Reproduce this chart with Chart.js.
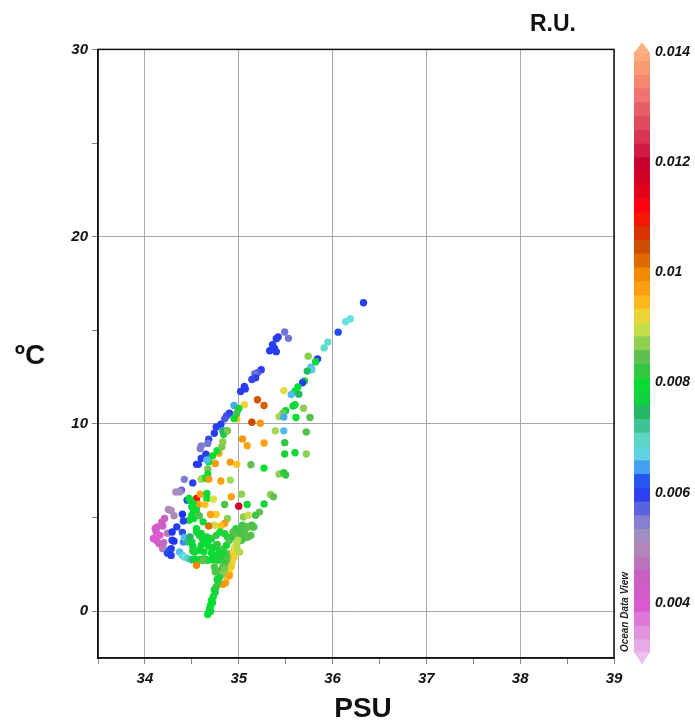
<!DOCTYPE html>
<html>
<head>
<meta charset="utf-8">
<script src="https://cdn.jsdelivr.net/npm/chart.js@4.4.0/dist/chart.umd.min.js"></script>
<style>
  html, body { margin: 0; padding: 0; background: #fff; }
  #wrap { width: 695px; height: 725px; }
</style>
</head>
<body>
<div id="wrap"><canvas id="tsChart" width="695" height="725"></canvas></div>
<script>
// each row: [salinity PSU, temperature ºC, R.U.]
const rightArm = [
  [36.33,16.47,.0060],[36.19,15.60,.0068],[36.14,15.46,.0068],[36.06,14.90,.0062],
  [35.95,14.37,.0069],[35.91,14.06,.0069],[35.84,13.47,.0060],[35.82,13.32,.0078],
  [35.74,13.62,.0087],[35.77,13.03,.0066],[35.78,12.89,.0067],[35.73,12.82,.0075],
  [35.70,12.29,.0077],[35.68,12.20,.0060],[35.63,11.98,.0079],[35.60,11.75,.0079],
  [35.64,11.59,.0075],[35.56,11.57,.0066],[35.48,11.78,.0091],[35.58,10.96,.0077],
  [35.60,11.03,.0080],[35.69,10.84,.0087],[35.50,10.71,.0078],[35.47,10.57,.0086],
  [35.43,10.39,.0088],[35.48,10.37,.0065],[35.61,10.34,.0079],[35.76,10.34,.0084],
  [35.39,9.63,.0088],[35.48,9.63,.0066],[35.72,9.57,.0084],[35.49,9.00,.0082],
  [35.60,8.46,.0080],[35.49,8.39,.0081],[35.72,8.39,.0087],[35.27,7.64,.0079],
  [35.13,7.82,.0085],[35.43,7.32,.0087],[35.48,7.39,.0082],[35.50,7.27,.0082]
];
const blueArm = [
  [35.49,14.91,.0056],[35.53,14.57,.0056],[35.42,14.64,.0060],[35.40,14.55,.0060],
  [35.36,14.23,.0060],[35.38,14.05,.0060],[35.40,13.86,.0060],[35.33,13.91,.0060],
  [35.24,12.89,.0060],[35.20,12.73,.0058],[35.17,12.68,.0056],[35.18,12.46,.0060],
  [35.14,12.37,.0059],[35.06,12.00,.0060],[35.07,11.87,.0060],[35.02,11.73,.0060],
  [34.95,10.98,.0065],[34.90,10.57,.0060],[34.87,10.43,.0059],[34.85,10.27,.0058],
  [34.81,9.98,.0060],[34.76,9.84,.0060],[34.74,9.50,.0060],[34.68,9.18,.0059],
  [34.67,8.96,.0056],[34.60,8.82,.0055],[34.59,8.69,.0055],[34.65,8.38,.0060],
  [34.60,8.16,.0060],[34.55,7.84,.0060],[34.57,7.84,.0060],[34.42,7.04,.0055],
  [34.51,6.85,.0060],[34.39,6.46,.0057],[34.33,6.37,.0051],[34.37,6.37,.0052],
  [34.45,5.93,.0062]
];
const midScatter = [
  [35.20,11.29,.0104],[35.27,10.98,.0103],[35.06,11.03,.0092],[35.14,10.09,.0105],
  [35.23,10.04,.0098],[35.04,9.20,.0098],[35.09,8.84,.0097],[35.27,8.98,.0097],
  [34.91,7.96,.0098],[34.98,7.84,.0094],[34.75,7.89,.0098],[34.79,8.43,.0096],
  [34.77,8.57,.0079],[34.82,8.78,.0086],[34.83,9.05,.0087],[34.87,9.64,.0080],
  [34.84,9.45,.0078],[34.83,9.63,.0074],[34.88,9.63,.0086],[34.98,10.27,.0094],
  [35.00,10.82,.0080],[34.98,10.57,.0083],[34.95,10.29,.0080],[34.72,8.29,.0080],
  [34.68,7.98,.0079],[34.66,8.07,.0066],[34.67,7.59,.0086],[34.67,7.32,.0080],
  [34.62,7.09,.0079]
];
const coreCluster = [
  [34.60,7.05,.0088],[34.65,7.09,.0079],[34.68,7.05,.0098],[34.81,6.95,.0097],
  [34.91,7.00,.0088],[34.55,6.02,.0110],[34.66,6.02,.0079],[34.73,5.98,.0091],
  [34.57,5.70,.0097],[34.64,5.70,.0094],[34.92,6.11,.0097],[35.03,6.25,.0087],
  [35.00,5.61,.0118],[35.09,5.70,.0080],[34.76,5.16,.0093],[34.70,5.16,.0097],
  [34.88,4.95,.0087],[34.85,4.68,.0098],[34.81,4.55,.0094],[34.74,4.59,.0090],
  [34.68,4.55,.0102],[35.05,5.03,.0087],[35.10,4.50,.0079],[35.14,4.59,.0082],
  [35.27,5.72,.0080],[35.34,6.23,.0087],[35.37,6.11,.0085],[35.22,5.29,.0085],
  [35.18,5.12,.0083],[35.16,4.50,.0083],[35.08,4.43,.0088],[35.10,5.12,.0090],
  [34.59,6.25,.0097],[34.66,6.29,.0080],[34.47,6.02,.0079],[34.49,5.88,.0080],
  [34.51,5.75,.0078],[34.50,5.57,.0079],[34.52,5.39,.0080],[34.50,5.13,.0078],
  [34.52,4.95,.0079],[34.47,4.86,.0080],[34.55,5.40,.0080],[34.58,5.10,.0084],
  [34.62,4.77,.0080],[34.85,5.70,.0084],[34.97,4.41,.0080],[34.97,4.20,.0084],
  [35.04,4.59,.0083],[35.11,4.54,.0085],[35.15,4.50,.0084],[34.55,4.41,.0079],
  [34.60,4.15,.0080],[34.66,3.96,.0078],[34.71,3.87,.0081],[34.76,4.05,.0083],
  [34.80,4.23,.0079],[34.85,4.14,.0082],[34.88,3.96,.0080],[34.94,4.23,.0084]
];
const westGroup = [
  [34.21,4.95,.0045],[34.18,4.77,.0043],[34.19,4.55,.0044],[34.13,4.50,.0042],
  [34.11,4.41,.0041],[34.12,4.23,.0042],[34.09,3.88,.0040],[34.12,3.79,.0041],
  [34.15,3.61,.0043],[34.18,3.52,.0044],[34.20,3.66,.0046],[34.19,3.34,.0047],
  [34.23,3.25,.0052],[34.16,4.05,.0040],[34.24,4.16,.0048],[34.25,5.43,.0050],
  [34.28,5.38,.0051],[34.31,5.10,.0050],[34.40,5.18,.0061],[34.41,4.82,.0060],
  [34.34,4.50,.0060],[34.29,4.23,.0061],[34.29,3.79,.0060],[34.31,3.74,.0061],
  [34.28,3.34,.0060],[34.26,3.20,.0060],[34.24,3.09,.0062],[34.28,2.98,.0060],
  [34.40,4.21,.0062],[34.41,3.70,.0064],[34.42,3.94,.0066],[34.37,3.16,.0066],
  [34.40,2.98,.0067],[34.42,2.89,.0068],[34.46,2.81,.0070],[34.50,2.75,.0073],
  [34.46,3.70,.0073],[34.48,3.96,.0074]
];
const lowBand = [
  [34.53,2.78,.0078],[34.57,2.72,.0079],[34.60,2.76,.0080],[34.64,2.78,.0081],
  [34.67,2.72,.0080],[34.71,2.76,.0079],[34.74,2.76,.0078],[34.78,2.72,.0081],
  [34.81,2.76,.0080],[34.85,2.80,.0082],[34.88,2.76,.0081],[34.92,2.82,.0083],
  [34.62,2.70,.0085],[34.55,4.23,.0080],[34.58,4.05,.0078],[34.61,3.88,.0081],
  [34.66,3.79,.0079],[34.68,3.47,.0082],[34.73,3.40,.0080],[34.77,3.57,.0084],
  [34.79,3.25,.0079],[34.84,3.34,.0083],[34.87,3.52,.0080],[34.90,3.79,.0084],
  [34.94,3.96,.0082],[34.97,4.18,.0085],[34.99,4.32,.0083],[35.01,3.96,.0084],
  [35.04,4.00,.0083],[35.08,3.93,.0085],[35.06,4.41,.0084],[34.98,3.61,.0087],
  [34.96,3.34,.0085],[34.94,3.07,.0083],[34.90,3.07,.0084],[34.83,3.07,.0080],
  [34.77,2.98,.0081],[34.71,3.11,.0079],[34.63,3.16,.0080],[34.58,3.25,.0078],
  [34.53,3.16,.0079],[34.50,3.70,.0080],[34.51,3.47,.0078],[34.51,3.21,.0081],
  [34.60,3.52,.0080],[34.67,3.57,.0079],[34.76,3.52,.0082],[35.06,4.23,.0084],
  [35.10,3.96,.0085],[35.13,4.05,.0084],[35.03,3.79,.0083]
];
const yellowStrip = [
  [34.94,3.16,.0092],[34.96,3.43,.0091],[34.95,2.89,.0093],[34.93,2.62,.0092],
  [34.92,2.36,.0093],[34.90,2.09,.0092],[34.88,1.82,.0094],[34.86,1.50,.0097],
  [34.83,1.43,.0098],[34.90,1.91,.0097],[34.55,2.45,.0100],[34.98,3.43,.0089],
  [34.99,3.79,.0089],[35.01,3.16,.0089]
];
const tail = [
  [34.87,2.72,.0084],[34.85,2.54,.0083],[34.83,2.36,.0084],[34.81,2.18,.0082],
  [34.80,2.00,.0083],[34.83,2.00,.0087],[34.85,2.27,.0086],[34.74,2.36,.0084],
  [34.75,2.09,.0084],[34.80,1.82,.0083],[34.78,1.55,.0084],[34.76,1.29,.0082],
  [34.75,1.02,.0080],[34.73,0.79,.0080],[34.71,0.57,.0079],[34.70,0.31,.0078],
  [34.69,0.13,.0079],[34.68,-0.05,.0078],[34.67,-0.18,.0079],[34.77,1.70,.0080],
  [34.74,1.15,.0081],[34.72,0.45,.0079],[34.70,0.00,.0078]
];

const xTicks = [33.5, 34, 34.5, 35, 35.5, 36, 36.5, 37, 37.5, 38, 38.5, 39];
const yTicks = [0, 5, 10, 15, 20, 25, 30];
const ruTicks = [0.004, 0.006, 0.008, 0.01, 0.012, 0.014];
const ruTickLabels = ['0.004', '0.006', '0.008', '0.01', '0.012', '0.014'];

// Ocean Data View style palette
const ruStops = [0.0030, 0.0035, 0.0040, 0.0045, 0.0050, 0.0053, 0.0056, 0.0059, 0.0061,
  0.0063, 0.0065, 0.0068, 0.0071, 0.0074, 0.0077, 0.0079, 0.0082, 0.0085, 0.0088, 0.0091,
  0.0094, 0.0097, 0.0100, 0.0103, 0.0106, 0.0109, 0.0112, 0.0116, 0.0120, 0.0124, 0.0128,
  0.0132, 0.0136, 0.0140];
const ruColors = ['#ecc0ec', '#e290dc', '#da58d0', '#c860c0', '#b088b8', '#9c90c4', '#7474d8',
  '#3848ec', '#1a34f8', '#2c6ae8', '#48a8f0', '#66e0e0', '#50d0b0', '#28b070', '#10d040',
  '#00e030', '#30c840', '#60c050', '#a0d850', '#e0e040', '#ffc020', '#ffa010', '#f08800',
  '#d86000', '#c84000', '#f02000', '#ff0010', '#d80020', '#c80030', '#d83050', '#e05060',
  '#f07070', '#f89070', '#ffb080'];

const allRows = [].concat(rightArm, blueArm, midScatter, coreCluster, westGroup, lowBand, yellowStrip, tail);

function hexRgb(h) {
  return [parseInt(h.slice(1, 3), 16), parseInt(h.slice(3, 5), 16), parseInt(h.slice(5, 7), 16)];
}

function ruColor(v) {
  if (v <= ruStops[0]) return ruColors[0];
  for (let i = 1; i < ruStops.length; i++) {
    if (v <= ruStops[i]) {
      const t = (v - ruStops[i - 1]) / (ruStops[i] - ruStops[i - 1]);
      const a = hexRgb(ruColors[i - 1]), b = hexRgb(ruColors[i]);
      const c = a.map((x, k) => Math.round(x + (b[k] - x) * t));
      return 'rgb(' + c.join(',') + ')';
    }
  }
  return ruColors[ruColors.length - 1];
}

const FONT = '"Liberation Sans", Arial, sans-serif';

// frame, colour bar and titles
const decor = {
  id: 'decor',
  afterDraw(chart) {
    const ctx = chart.ctx;
    const a = chart.chartArea;
    const cb = chart.scales.ru;
    ctx.save();

    ctx.strokeStyle = '#111';
    ctx.lineWidth = 1.5;
    ctx.strokeRect(a.left, a.top, a.right - a.left, a.bottom - a.top);

    // colour bar
    const bx = a.right + 20, bw = 16;
    const step = 0.00025;
    const vLow = 0.0031, vHigh = 0.014;
    for (let v = vLow; v < vHigh - 1e-9; v += step) {
      const v2 = Math.min(v + step, vHigh);
      const yT = cb.getPixelForValue(v2), yB = cb.getPixelForValue(v);
      ctx.fillStyle = ruColor((v + v2) / 2);
      ctx.fillRect(bx, yT, bw, yB - yT + 0.6);
    }
    const yTop = cb.getPixelForValue(vHigh), yBot = cb.getPixelForValue(vLow);
    ctx.fillStyle = ruColor(0.0141);
    ctx.beginPath();
    ctx.moveTo(bx, yTop + 0.5); ctx.lineTo(bx + bw / 2, yTop - 10); ctx.lineTo(bx + bw, yTop + 0.5);
    ctx.closePath(); ctx.fill();
    ctx.fillStyle = ruColor(0.003);
    ctx.beginPath();
    ctx.moveTo(bx, yBot - 0.5); ctx.lineTo(bx + bw / 2, yBot + 12); ctx.lineTo(bx + bw, yBot - 0.5);
    ctx.closePath(); ctx.fill();

    // texts
    ctx.fillStyle = '#111';
    ctx.textAlign = 'center';
    ctx.textBaseline = 'middle';
    ctx.font = 'bold 28px ' + FONT;
    ctx.fillText('PSU', 363, 709);
    ctx.fillText('ºC', 30, 356);
    ctx.font = 'bold 23px ' + FONT;
    ctx.fillText('R.U.', 553, 25);

    ctx.translate(a.right + 11, 612);
    ctx.rotate(-Math.PI / 2);
    ctx.font = 'italic bold 10px ' + FONT;
    ctx.fillStyle = '#222';
    ctx.fillText('Ocean Data View', 0, 0);
    ctx.restore();
  }
};

const tickFont = { family: FONT, size: 15, weight: 'bold', style: 'italic' };

new Chart(document.getElementById('tsChart'), {
  type: 'scatter',
  data: {
    datasets: [{
      data: allRows.map(r => ({ x: r[0], y: r[1] })),
      pointBackgroundColor: allRows.map(r => ruColor(r[2])),
      pointBorderWidth: 0,
      pointRadius: 3.7,
      pointHoverRadius: 3.7
    }]
  },
  options: {
    responsive: false,
    animation: false,
    devicePixelRatio: 1,
    layout: { padding: { top: 49, left: 0, right: 0, bottom: 0 } },
    plugins: { legend: { display: false }, tooltip: { enabled: false } },
    scales: {
      x: {
        type: 'linear', position: 'bottom', min: 33.5, max: 39,
        afterBuildTicks: s => { s.ticks = xTicks.map(v => ({ value: v })); },
        afterFit: s => { s.height = 67; },
        ticks: {
          font: tickFont, color: '#111', padding: 6, autoSkip: false, maxRotation: 0,
          callback: v => Number.isInteger(v) ? String(v) : ''
        },
        grid: {
          color: c => (c.tick && Number.isInteger(c.tick.value)) ? '#a8a8a8' : 'rgba(0,0,0,0)',
          tickColor: '#888', tickLength: 6, lineWidth: 1
        },
        border: { color: '#111', width: 1.5 }
      },
      y: {
        type: 'linear', position: 'left', min: -2.5, max: 30,
        afterBuildTicks: s => { s.ticks = yTicks.map(v => ({ value: v })); },
        afterFit: s => { s.width = 98; },
        ticks: {
          font: tickFont, color: '#111', padding: 4, autoSkip: false,
          callback: v => v % 10 === 0 ? String(v) : ''
        },
        grid: {
          color: c => (c.tick && c.tick.value % 10 === 0) ? '#a8a8a8' : 'rgba(0,0,0,0)',
          tickColor: '#888', tickLength: 6, lineWidth: 1
        },
        border: { color: '#111', width: 1.5 }
      },
      ru: {
        type: 'linear', axis: 'y', position: 'right', min: 0.003, max: 0.01405,
        afterBuildTicks: s => { s.ticks = ruTicks.map(v => ({ value: v })); },
        afterFit: s => { s.width = 81; },
        ticks: {
          font: { family: FONT, size: 14, weight: 'bold', style: 'italic' },
          color: '#111', padding: 41, autoSkip: false,
          callback: (v, i) => ruTickLabels[i]
        },
        grid: { display: false, drawTicks: false },
        border: { display: false }
      }
    }
  },
  plugins: [decor]
});
</script>
</body>
</html>
